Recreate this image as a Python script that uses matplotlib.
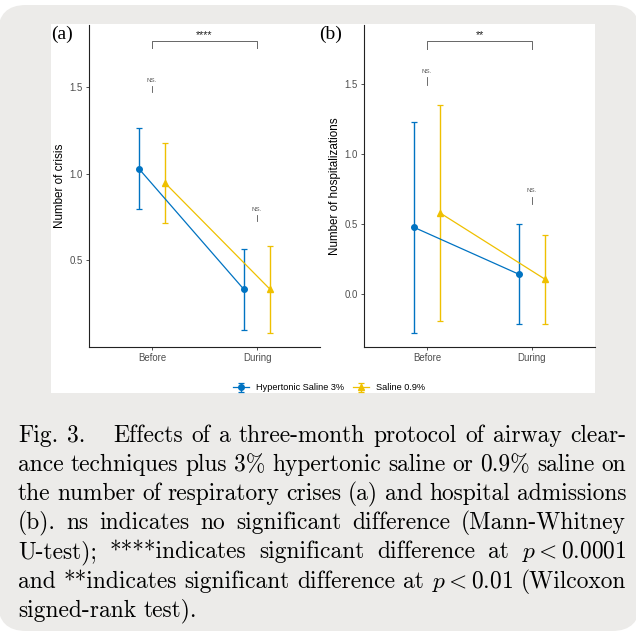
import matplotlib
matplotlib.use('Agg')
import matplotlib.pyplot as plt
from matplotlib.patches import FancyBboxPatch, Rectangle
from matplotlib.transforms import IdentityTransform

plt.rcParams['mathtext.fontset'] = 'cm'
plt.rcParams['font.family'] = ['Liberation Sans', 'DejaVu Sans']

W, H = 636, 632
BLUE = '#0073C2'
YELLOW = '#EFC000'

times = ['Before', 'During']
groups = ['Hypertonic Saline 3%', 'Saline 0.9%']

# (a) number of crisis: mean and half-width of error bar
crisis_hs = [1.03, 0.333]
crisis_hs_err = [0.235, 0.235]
crisis_s = [0.947, 0.333]
crisis_s_err = [0.23, 0.25]

# (b) number of hospitalizations
hosp_hs = [0.478, 0.143]
hosp_hs_err = [0.752, 0.357]
hosp_s = [0.58, 0.107]
hosp_s_err = [0.77, 0.316]

# significance marks
ns_a = [1.542, 0.792]
ns_b = [1.588, 0.737]
star_a = '****'
star_b = '**'


def px(x, y):
    # image pixel (from top-left) -> figure fraction
    return x / W, 1 - y / H


fig = plt.figure(figsize=(W / 100, H / 100), dpi=100)
fig.patch.set_facecolor('white')

# grey rounded box and white panel behind the plot
fig.patches.append(FancyBboxPatch((-2, H - 631), 642, 626,
                                  boxstyle='round,pad=0,rounding_size=28',
                                  transform=IdentityTransform(),
                                  fc='#ecebe9', ec='none', zorder=-10))
fig.patches.append(Rectangle((51, H - 393), 544, 369, transform=IdentityTransform(),
                             fc='white', ec='none', zorder=-9))


def panel(left, means, errs, ylim, yticks, ylabel, ns_y, ns_line, brk, star, star_y,
          tag, tag_x):
    x0, y0 = px(left, 347)
    ax = fig.add_axes([x0, y0, 231 / W, 322 / H])
    ax.patch.set_alpha(0)
    styles = [(BLUE, 'o', -0.125), (YELLOW, '^', 0.125)]
    for (m, e), (c, mk, dx), g in zip(zip(means, errs), styles, groups):
        xs = [i + dx for i in range(len(times))]
        ax.errorbar(xs, m, yerr=e, color=c, marker=mk, ms=4, lw=0.9,
                    elinewidth=1.0, capsize=2, capthick=0.9, label=g)
    ax.set_xlim(-0.6, 1.6)
    ax.set_ylim(*ylim)
    ax.set_xticks(range(len(times)))
    ax.set_xticklabels(times)
    ax.set_yticks(yticks)
    ax.set_yticklabels(['%.1f' % v for v in yticks])
    for s in ['top', 'right']:
        ax.spines[s].set_visible(False)
    for s in ['left', 'bottom']:
        ax.spines[s].set_linewidth(0.8)
        ax.spines[s].set_color('#222222')
    ax.tick_params(labelsize=6.9, labelcolor='#4d4d4d', color='#333333',
                   length=2.5, width=0.6, pad=2)
    ax.set_ylabel(ylabel, fontsize=8.4, labelpad=2.5)
    # ns marks
    for i, (ty, (l0, l1)) in enumerate(zip(ns_y, ns_line)):
        ax.text(i, ty, 'NS.', fontsize=4.4, color='#555555', ha='center', va='center')
        ax.plot([i, i], [l0, l1], color='#555555', lw=0.6)
    # bracket
    top, tip = brk
    ax.plot([0, 0, 1, 1], [tip, top, top, tip], color='#666666', lw=0.7)
    ax.text(0.5, star_y, star, fontsize=7.8, ha='center', va='baseline', color='#222222')
    fx, fy = px(tag_x, 34)
    fig.text(fx, fy, tag, family='Liberation Serif', fontsize=14, va='center')
    return ax


ax1 = panel(89, [crisis_hs, crisis_s], [crisis_hs_err, crisis_s_err],
            (0.0, 1.86), [0.5, 1.0, 1.5], 'Number of crisis',
            ns_a, [(1.507, 1.475), (0.760, 0.725)], (1.767, 1.725),
            star_a, 1.782, '(a)', 51)
ax2 = panel(364, [hosp_hs, hosp_s], [hosp_hs_err, hosp_s_err],
            (-0.376, 1.921), [0.0, 0.5, 1.0, 1.5], 'Number of hospitalizations',
            ns_b, [(1.552, 1.493), (0.696, 0.642)], (1.807, 1.75),
            star_b, 1.826, '(b)', 319)

h, l = ax1.get_legend_handles_labels()
lx, ly = px(329, 388)
fig.legend(h, l, loc='center', bbox_to_anchor=(lx, ly), ncol=2, frameon=False,
           fontsize=6.6, handlelength=1.75, handletextpad=0.8, columnspacing=0.9,
           borderaxespad=0, borderpad=0)

# caption, justified line by line
caption = [
    ['Fig.', '3.', 'Effects', 'of', 'a', 'three-month', 'protocol', 'of', 'airway', 'clear-'],
    ['ance', 'techniques', 'plus', '3%', 'hypertonic', 'saline', 'or', '0.9%', 'saline', 'on'],
    ['the', 'number', 'of', 'respiratory', 'crises', '(a)', 'and', 'hospital', 'admissions'],
    ['(b).', 'ns', 'indicates', 'no', 'significant', 'difference', '(Mann-Whitney'],
    ['U-test);', '****indicates', 'significant', 'difference', 'at', r'$p<0.0001$'],
    ['and', '**indicates', 'significant', 'difference', 'at', r'$p<0.01$', '(Wilcoxon'],
    ['signed-rank', 'test).'],
]
baselines = [441.7, 471, 500, 529, 558, 587.7, 616.7]
CAP_FS = 16.9
X0, X1 = 18, 626

fig.canvas.draw()
r = fig.canvas.get_renderer()
for k, (words, yb) in enumerate(zip(caption, baselines)):
    ts = [fig.text(0, 1 - yb / H, w, family='cmr10', fontsize=CAP_FS, va='baseline')
          for w in words]
    ws = [t.get_window_extent(r).width for t in ts]
    weights = [1.0] * (len(words) - 1)
    if k == 0:
        weights[1] = 3.3
    if k == len(caption) - 1:
        gap = CAP_FS * 100 / 72 * 0.333
        gaps = [gap] * len(weights)
    else:
        extra = (X1 - X0) - sum(ws)
        gaps = [extra * wt / sum(weights) for wt in weights]
    x = X0
    for i, t in enumerate(ts):
        t.set_x(x / W)
        x += ws[i] + (gaps[i] if i < len(gaps) else 0)

fig.savefig('out.png', dpi=100)
